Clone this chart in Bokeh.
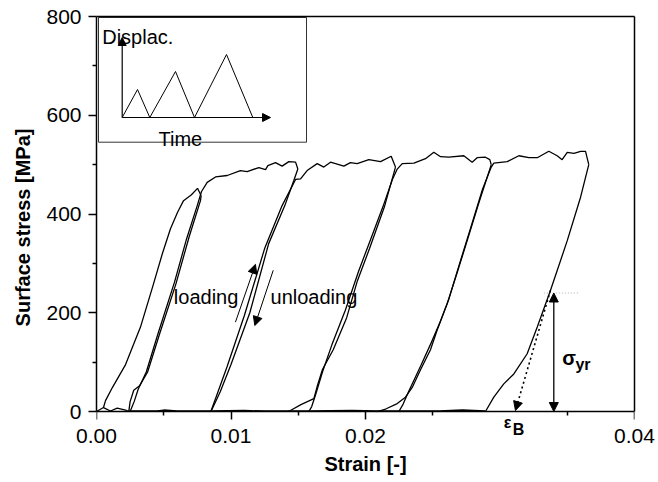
from bokeh.plotting import figure
from bokeh.models import Range1d, Arrow, NormalHead, Label, NumeralTickFormatter, FixedTicker, LinearAxis
from bokeh.embed import file_html
from bokeh.resources import INLINE

FONT = "Liberation Sans"

# ---------------- data (strain [-], surface stress [MPa]) ----------------
load1_strain = [0.0, 0.00052, 0.00067, 0.00119, 0.00216, 0.00327, 0.0042, 0.0049, 0.0055, 0.00602, 0.00647, 0.00706, 0.00751, 0.00778]
load1_stress = [0, 8, 22, 49, 95, 171, 255, 320, 370, 403, 427, 439, 452, 437]

base0_strain = [0.00052, 0.00104, 0.00154, 0.00216, 0.0024]
base0_stress = [8, 1, 7, 3, 0]

unload1_strain = [0.00778, 0.00773, 0.0069, 0.0059, 0.0047, 0.0038, 0.0032, 0.00277, 0.0025, 0.0024]
unload1_stress = [437, 427, 355, 258, 158, 80, 52, 43, 20, 0]

load2_strain = [0.0025, 0.0028, 0.0031, 0.0037, 0.0046, 0.0058, 0.0067, 0.00749, 0.0078, 0.00823, 0.00885, 0.00972, 0.0107, 0.0112, 0.01207, 0.01257, 0.01274, 0.01331, 0.0138, 0.0143, 0.0148, 0.01497]
load2_stress = [0, 20, 45, 80, 160, 262, 350, 417, 445, 464, 475, 478, 488, 486, 494, 490, 498, 504, 497, 506, 505, 491]

unload2_strain = [0.01497, 0.01467, 0.0140, 0.0128, 0.0114, 0.0100, 0.0092, 0.0086, 0.00848]
unload2_stress = [491, 468, 417, 340, 200, 95, 40, 5, 0]

load3_strain = [0.0085, 0.0089, 0.0097, 0.0110, 0.0125, 0.0138, 0.0148, 0.01517, 0.01566, 0.01641, 0.0169, 0.0174, 0.01839, 0.01888, 0.01938, 0.02025, 0.02112, 0.02191, 0.02223]
load3_stress = [0, 30, 90, 195, 330, 417, 470, 471, 488, 502, 495, 505, 497, 504, 502, 510, 506, 517, 495]

unload3_strain = [0.02223, 0.0214, 0.0203, 0.0194, 0.0186, 0.0176, 0.0168, 0.0164, 0.01616, 0.0152, 0.01442, 0.0142]
unload3_stress = [495, 414, 330, 265, 190, 125, 85, 50, 26, 14, 2, 0]

load4_strain = [0.01579, 0.0160, 0.0163, 0.0168, 0.0175, 0.0185, 0.0195, 0.0204, 0.0213, 0.0220, 0.02236, 0.02273, 0.0236, 0.02446, 0.02508, 0.02558, 0.0262, 0.02731, 0.02793, 0.0283, 0.02892, 0.02924, 0.02935]
load4_stress = [0, 10, 35, 80, 135, 205, 285, 350, 415, 470, 491, 502, 503, 512, 525, 516, 515, 518, 505, 514, 515, 510, 500]

unload4_strain = [0.02935, 0.0284, 0.02756, 0.0268, 0.02607, 0.02533, 0.02483, 0.0241, 0.0235, 0.02297, 0.02236, 0.0215, 0.02087]
unload4_stress = [500, 420, 346, 280, 218, 165, 125, 85, 50, 29, 16, 5, 0]

load5_strain = [0.02248, 0.0228, 0.0232, 0.0241, 0.0249, 0.0255, 0.0262, 0.0270, 0.0278, 0.0287, 0.02935, 0.02954, 0.03054, 0.0314, 0.03215, 0.03277, 0.03363, 0.03425, 0.03462, 0.035, 0.0355, 0.03599, 0.03636, 0.0366]
load5_stress = [0, 15, 40, 92, 140, 178, 228, 300, 370, 450, 495, 503, 506, 518, 514, 514, 527, 518, 510, 525, 523, 527, 527, 500]

unload5_strain = [0.0366, 0.03599, 0.035, 0.03375, 0.03277, 0.03202, 0.03103, 0.03028, 0.02954, 0.02892]
unload5_stress = [500, 434, 346, 245, 171, 117, 76, 56, 29, 0]

baseline_strain = [0.0024, 0.0045, 0.0050, 0.0060, 0.0085, 0.0110, 0.0125, 0.0144, 0.0158, 0.0190, 0.0209, 0.0225, 0.0255, 0.0272, 0.0289]
baseline_stress = [1, 1, 3, 1, 1, 2, 1, 1, 1, 2, 1, 1, 1, 3, 1]

segments = [
    (load1_strain, load1_stress), (base0_strain, base0_stress),
    (unload1_strain, unload1_stress), (load2_strain, load2_stress),
    (unload2_strain, unload2_stress), (load3_strain, load3_stress),
    (unload3_strain, unload3_stress), (load4_strain, load4_stress),
    (unload4_strain, unload4_stress), (load5_strain, load5_stress),
    (unload5_strain, unload5_stress), (baseline_strain, baseline_stress),
]

# annotation values
sigma_yr_strain = 0.034
sigma_yr_stress = 240
eps_b_start = (0.03375, 245)
eps_b_end = (0.03115, 2)
loading_arrow = (0.01033, 181, 0.01182, 298)
unloading_arrow = (0.01314, 286, 0.01177, 174)

# inset: displacement vs time (arbitrary units)
inset_time = [0, 1.53, 2.76, 5.33, 7.23, 10.43, 13.06]
inset_disp = [0, 2.8, 0, 4.6, 0, 6.3, 0]

x_ticks = [0.0, 0.01, 0.02, 0.04]
x_minor = [0.005, 0.015, 0.025, 0.035]
y_ticks = [0, 200, 400, 600, 800]
y_minor = [100, 300, 500, 700]

# ---------------- figure ----------------
# The frame reaches a little below stress 0 so that the eps_B label is not clipped;
# a pinned axis draws the line and ticks at stress 0, the regular axis only carries the labels.
p = figure(width=658, height=482, x_range=Range1d(0, 0.04), y_range=Range1d(-54.68, 800),
           output_backend="svg", toolbar_location=None,
           min_border_left=96, min_border_right=24, min_border_top=16, min_border_bottom=44,
           x_axis_label="Strain [-]", y_axis_label="Surface stress [MPa]")
p.background_fill_color = "white"
p.border_fill_color = "white"
p.xgrid.visible = False
p.ygrid.visible = False
p.outline_line_color = None

# label-only x axis (at frame bottom)
xa = p.xaxis[0]
xa.ticker = FixedTicker(ticks=x_ticks, minor_ticks=x_minor)
xa.formatter = NumeralTickFormatter(format="0.00")
xa.axis_line_color = None
xa.major_tick_line_color = None
xa.minor_tick_line_color = None
xa.major_tick_out = 0
xa.major_tick_in = 0
xa.minor_tick_out = 0
xa.minor_tick_in = 0
xa.major_label_standoff = -10
xa.major_label_text_font = FONT
xa.major_label_text_font_size = "21px"
xa.major_label_text_color = "black"
xa.axis_label_text_font = FONT
xa.axis_label_text_font_size = "20px"
xa.axis_label_text_font_style = "bold"
xa.axis_label_text_color = "black"
xa.axis_label_standoff = 7

# x axis line + ticks pinned at stress 0
x0 = LinearAxis(ticker=FixedTicker(ticks=x_ticks, minor_ticks=x_minor), fixed_location=0,
                axis_line_color="black", axis_line_width=1.5,
                major_tick_line_color="black", major_tick_line_width=1.5,
                minor_tick_line_color="black", minor_tick_line_width=1.5,
                major_tick_out=8, major_tick_in=0, minor_tick_out=4, minor_tick_in=0,
                major_label_text_alpha=0, major_label_text_font_size="10px")
p.add_layout(x0, "below")

ya = p.yaxis[0]
ya.ticker = FixedTicker(ticks=y_ticks, minor_ticks=y_minor)
ya.bounds = (0, 800)
ya.axis_line_color = "black"
ya.axis_line_width = 1.5
ya.major_tick_line_color = "black"
ya.major_tick_line_width = 1.5
ya.minor_tick_line_color = "black"
ya.minor_tick_line_width = 1.5
ya.major_tick_out = 8
ya.major_tick_in = 0
ya.minor_tick_out = 4
ya.minor_tick_in = 0
ya.major_label_text_font = FONT
ya.major_label_text_font_size = "21px"
ya.major_label_text_color = "black"
ya.major_label_standoff = 7
ya.axis_label_text_font = FONT
ya.axis_label_text_font_size = "20px"
ya.axis_label_text_font_style = "bold"
ya.axis_label_text_color = "black"
ya.axis_label_standoff = 9

# top and right frame lines
top_ax = LinearAxis(ticker=FixedTicker(ticks=[]), axis_line_color="black", axis_line_width=1.5,
                    major_tick_line_color=None, minor_tick_line_color=None)
right_ax = LinearAxis(ticker=FixedTicker(ticks=[]), axis_line_color="black", axis_line_width=1.5,
                      major_tick_line_color=None, minor_tick_line_color=None, bounds=(0, 800))
p.add_layout(top_ax, "above")
p.add_layout(right_ax, "right")

for xs, ys in segments:
    p.line(xs, ys, line_color="black", line_width=1.3)

# loading / unloading arrows
la = loading_arrow
p.add_layout(Arrow(x_start=la[0], y_start=la[1], x_end=la[2], y_end=la[3], line_width=1,
                   end=NormalHead(size=9, fill_color="black", line_color="black", line_width=1)))
ua = unloading_arrow
p.add_layout(Arrow(x_start=ua[0], y_start=ua[1], x_end=ua[2], y_end=ua[3], line_width=1,
                   end=NormalHead(size=9, fill_color="black", line_color="black", line_width=1)))

# dotted extrapolation arrow to eps_B
p.add_layout(Arrow(x_start=eps_b_start[0], y_start=eps_b_start[1], x_end=eps_b_end[0], y_end=eps_b_end[1],
                   line_width=1.6, line_dash="2 3",
                   end=NormalHead(size=9, fill_color="black", line_color="black", line_width=1)))
# grey dotted level line
p.line([0.03326, 0.03586], [sigma_yr_stress, sigma_yr_stress], line_color="#b0b0b0", line_width=1, line_dash="1 2")
# sigma_yr double arrow
p.add_layout(Arrow(x_start=sigma_yr_strain, y_start=0, x_end=sigma_yr_strain, y_end=sigma_yr_stress,
                   line_width=1.3,
                   start=NormalHead(size=9, fill_color="black", line_color="black", line_width=1),
                   end=NormalHead(size=9, fill_color="black", line_color="black", line_width=1)))

def lab(x, y, t, size="20px", style="normal", **kw):
    p.add_layout(Label(x=x, y=y, text=t, text_font=FONT, text_font_size=size, text_font_style=style,
                       text_color="black", text_align="left", text_baseline="alphabetic", **kw))

lab(0.00575, 231, "loading")
lab(0.01294, 231, "unloading")
lab(0.03462, 108, "σ", size="20px", style="bold")
lab(0.03561, 96, "yr", size="16px", style="bold")
lab(0.03028, -22, "ε", size="16px", style="bold")
lab(0.03095, -37, "B", size="16px", style="bold")

# ---------------- inset ----------------
p.extra_x_ranges = {"ix": Range1d(-2.57, 51.23)}
p.extra_y_ranges = {"iy": Range1d(-32.1, 10.1)}
p.quad(left=[-2.37], right=[18.43], bottom=[-2.47], top=[10.0], fill_color="white",
       line_color="#333333", line_width=1, x_range_name="ix", y_range_name="iy")
p.line(inset_time, inset_disp, line_color="black", line_width=1, x_range_name="ix", y_range_name="iy")
p.add_layout(Arrow(x_start=0, y_start=0, x_end=0, y_end=8.0, line_width=1.2,
                   x_range_name="ix", y_range_name="iy",
                   end=NormalHead(size=8, fill_color="black", line_color="black", line_width=1)))
p.add_layout(Arrow(x_start=0, y_start=0, x_end=14.83, y_end=0, line_width=1.2,
                   x_range_name="ix", y_range_name="iy",
                   end=NormalHead(size=8, fill_color="black", line_color="black", line_width=1)))
lab(-2.0, 8.1, "Displac.", x_range_name="ix", y_range_name="iy")
lab(3.63, -2.13, "Time", x_range_name="ix", y_range_name="iy")

open("out.html", "w").write(file_html(p, INLINE))
